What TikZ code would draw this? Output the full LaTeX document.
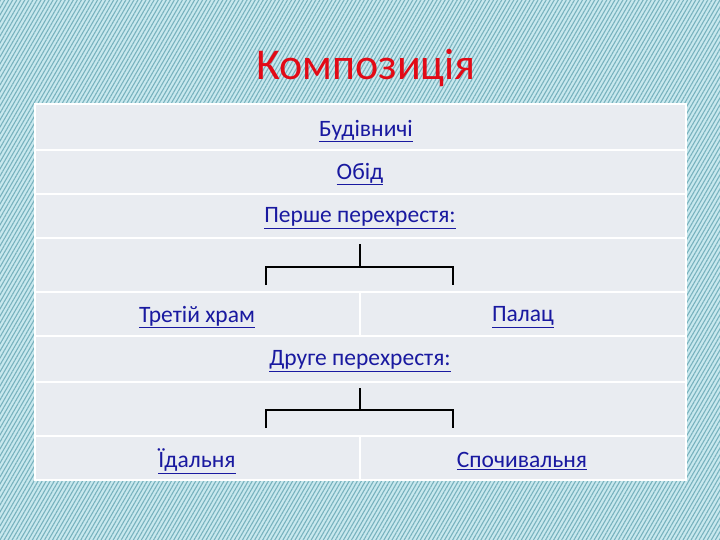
\documentclass[tikz,border=0pt]{standalone}
\usepackage{fontspec}
\setmainfont{Carlito}
\usepackage{tikz}
\usetikzlibrary{patterns.meta}
\definecolor{bgcyan}{RGB}{200,232,238}
\definecolor{hatch}{RGB}{120,178,190}
\definecolor{cellgray}{RGB}{233,236,241}
\definecolor{linkblue}{RGB}{25,25,160}
\definecolor{titlered}{RGB}{226,10,22}
\newcommand{\lnk}[1]{\underline{#1}}

\begin{document}
\begin{tikzpicture}[x=1pt,y=-1pt,
  cell/.style={font=\fontsize{23.5}{26}\selectfont,text=linkblue,inner sep=0pt,anchor=center},
  sep/.style={white,line width=2pt},
  brk/.style={black,line width=1.8pt}]
  \useasboundingbox (0,0) rectangle (720,540);
  \fill[bgcyan] (0,0) rectangle (720,540);
  \fill[pattern={Lines[angle=60,distance=3.5pt,line width=1.1pt]},pattern color=hatch] (0,0) rectangle (720,540);
  \node[font=\fontsize{44}{48}\selectfont,text=titlered] (title) at (366,68) {Композиція};
  % table
  \fill[cellgray] (35,104) rectangle (686,480);
  \draw[white,line width=1.5pt] (35,104) rectangle (686,480);
  \foreach \yy in {150,194,238,292,336,382,436}
    \draw[sep] (35,\yy) -- (686,\yy);
  \draw[sep] (360,292) -- (360,336);
  \draw[sep] (360,436) -- (360,480);
  \node[cell] (bud) at (366,131) {\lnk{Будівничі}};
  \node[cell] (obid) at (360,174) {\lnk{Обід}};
  \node[cell] (first) at (360,218) {\lnk{Перше перехрестя:}};
  \node[cell] (temple) at (197,317) {\lnk{Третій храм}};
  \node[cell] (palace) at (523,317) {\lnk{Палац}};
  \node[cell] (second) at (360,361) {\lnk{Друге перехрестя:}};
  \node[cell] (dining) at (197,461) {\lnk{Їдальня}};
  \node[cell] (rest) at (522,461) {\lnk{Спочивальня}};
  % brackets
  \coordinate (f1) at (360,244);
  \coordinate (f2) at (360,267);
  \coordinate (fl) at (266,285);
  \coordinate (fr) at (453,285);
  \draw[brk] (f1) -- (f2);
  \draw[brk] (fl) |- (f2) -| (fr);
  \draw[black,line width=2.6pt] (348,267) -- (372,267);
  \coordinate (s1) at (360,388);
  \coordinate (s2) at (360,410);
  \coordinate (sl) at (266,428);
  \coordinate (sr) at (453,428);
  \draw[brk] (s1) -- (s2);
  \draw[brk] (sl) |- (s2) -| (sr);
  \draw[black,line width=2.6pt] (348,410) -- (372,410);
\end{tikzpicture}
\end{document}
